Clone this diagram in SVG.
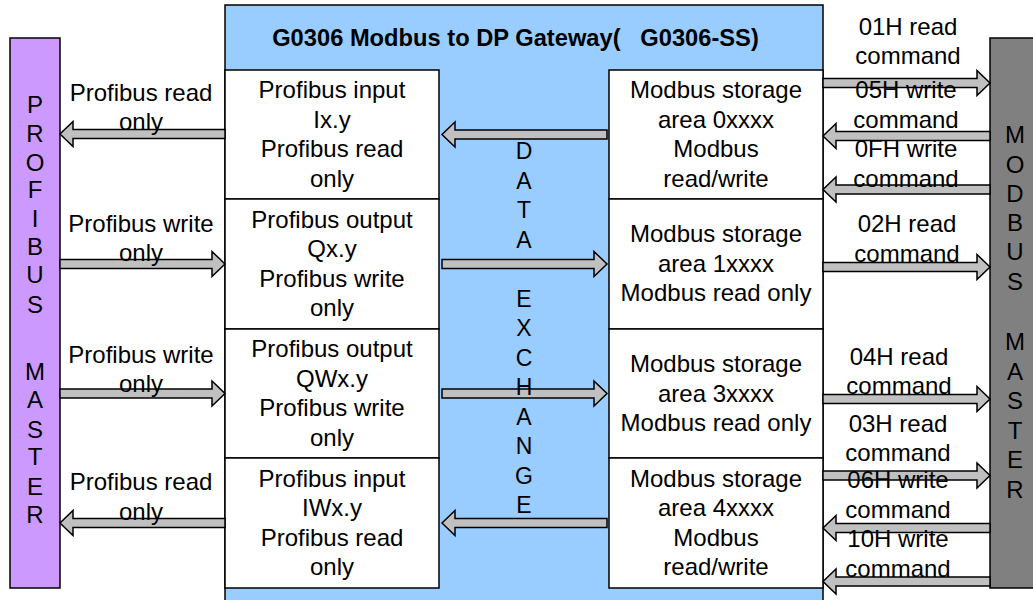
<svg xmlns="http://www.w3.org/2000/svg" width="1033" height="600" viewBox="0 0 1033 600">
<style>
text{font-family:"Liberation Sans",Arial,sans-serif;font-size:24px;fill:#000;text-anchor:middle}
.t{font-weight:bold;font-size:23.7px}
.v{font-size:23px}
.box{fill:#fff;stroke:#000;stroke-width:1.5}
.arr{fill:#C0C0C0;stroke:#000;stroke-width:1.5;stroke-linejoin:miter}
</style>
<rect width="1033" height="600" fill="#fff"/>
<g id="gateway">
<rect x="225" y="5" width="598" height="600" fill="#99CCFF" stroke="#000" stroke-width="1.5"/>
<text class="t" x="515.5" y="46" xml:space="preserve">G0306 Modbus to DP Gateway(   G0306-SS)</text>
</g>
<g id="profibus-master">
<rect x="10" y="38" width="50" height="550" fill="#CC99FF" stroke="#000" stroke-width="1.5"/>
<text x="35" y="113">P</text><text x="35" y="142">R</text><text x="35" y="171">O</text><text x="35" y="198">F</text>
<text x="35" y="227">I</text><text x="35" y="255">B</text><text x="35" y="283">U</text><text x="35" y="313">S</text>
<text x="35" y="380">M</text><text x="35" y="408">A</text><text x="35" y="438">S</text><text x="35" y="465">T</text>
<text x="35" y="495">E</text><text x="35" y="523">R</text>
</g>
<g id="modbus-master">
<rect x="990" y="38" width="50" height="550" fill="#808080" stroke="#000" stroke-width="1.5"/>
<text x="1015" y="143">M</text><text x="1015" y="173">O</text><text x="1015" y="202">D</text><text x="1015" y="231">B</text>
<text x="1015" y="260">U</text><text x="1015" y="290">S</text>
<text x="1015" y="350">M</text><text x="1015" y="380">A</text><text x="1015" y="409">S</text><text x="1015" y="439">T</text>
<text x="1015" y="468">E</text><text x="1015" y="498">R</text>
</g>
<g id="pb-input-ix">
<rect class="box" x="225" y="70" width="214" height="129"/>
<text x="332" y="98">Profibus input</text><text x="332" y="127.5">Ix.y</text><text x="332" y="157">Profibus read</text><text x="332" y="186.5">only</text>
</g>
<g id="pb-output-qx">
<rect class="box" x="225" y="199" width="214" height="130"/>
<text x="332" y="227.5">Profibus output</text><text x="332" y="257">Qx.y</text><text x="332" y="286.5">Profibus write</text><text x="332" y="316">only</text>
</g>
<g id="pb-output-qwx">
<rect class="box" x="225" y="329" width="214" height="129"/>
<text x="332" y="357">Profibus output</text><text x="332" y="386.5">QWx.y</text><text x="332" y="416">Profibus write</text><text x="332" y="445.5">only</text>
</g>
<g id="pb-input-iwx">
<rect class="box" x="225" y="458" width="214" height="130"/>
<text x="332" y="486.5">Profibus input</text><text x="332" y="516">IWx.y</text><text x="332" y="545.5">Profibus read</text><text x="332" y="575">only</text>
</g>
<g id="mb-0xxxx">
<rect class="box" x="609" y="70" width="214" height="129"/>
<text x="716" y="98">Modbus storage</text><text x="716" y="127.5">area 0xxxx</text><text x="716" y="157">Modbus</text><text x="716" y="186.5">read/write</text>
</g>
<g id="mb-1xxxx">
<rect class="box" x="609" y="199" width="214" height="130"/>
<text x="716" y="242">Modbus storage</text><text x="716" y="271.5">area 1xxxx</text><text x="716" y="301">Modbus read only</text>
</g>
<g id="mb-3xxxx">
<rect class="box" x="609" y="329" width="214" height="129"/>
<text x="716" y="372">Modbus storage</text><text x="716" y="401.5">area 3xxxx</text><text x="716" y="431">Modbus read only</text>
</g>
<g id="mb-4xxxx">
<rect class="box" x="609" y="458" width="214" height="130"/>
<text x="716" y="486.5">Modbus storage</text><text x="716" y="516">area 4xxxx</text><text x="716" y="545.5">Modbus</text><text x="716" y="575">read/write</text>
</g>
<g id="connectors">
<path class="arr" d="M225,129.5 H73 V121.5 L60,134 L73,146.5 V138.5 H225 Z"/>
<path class="arr" d="M60,259.5 H212 V251.5 L225,264 L212,276.5 V268.5 H60 Z"/>
<path class="arr" d="M60,389 H212 V381 L225,393.5 L212,406 V398 H60 Z"/>
<path class="arr" d="M225,518.5 H73 V510.5 L60,523 L73,535.5 V527.5 H225 Z"/>
<path class="arr" d="M607,130 H455 V122 L442,134.5 L455,147 V139 H607 Z"/>
<path class="arr" d="M442,259.5 H594 V251.5 L607,264 L594,276.5 V268.5 H442 Z"/>
<path class="arr" d="M442,389 H594 V381 L607,393.5 L594,406 V398 H442 Z"/>
<path class="arr" d="M607,518.5 H455 V510.5 L442,523 L455,535.5 V527.5 H607 Z"/>
<path class="arr" d="M823,78.5 H977 V70.5 L990,83 L977,95.5 V87.5 H823 Z"/>
<path class="arr" d="M990,131.5 H836 V123.5 L823,136 L836,148.5 V140.5 H990 Z"/>
<path class="arr" d="M990,185 H836 V177 L823,189.5 L836,202 V194 H990 Z"/>
<path class="arr" d="M823,262.5 H977 V254.5 L990,267 L977,279.5 V271.5 H823 Z"/>
<path class="arr" d="M823,394.5 H977 V386.5 L990,399 L977,411.5 V403.5 H823 Z"/>
<path class="arr" d="M823,471 H977 V463 L990,475.5 L977,488 V480 H823 Z"/>
<path class="arr" d="M990,523.5 H836 V515.5 L823,528 L836,540.5 V532.5 H990 Z"/>
<path class="arr" d="M990,577 H836 V569 L823,581.5 L836,594 V586 H990 Z"/>
</g>
<g id="data-exchange-label">
<text class="v" x="524" y="159">D</text>
<text class="v" x="524" y="188.5">A</text>
<text class="v" x="524" y="218">T</text>
<text class="v" x="524" y="247.5">A</text>
<text class="v" x="524" y="306.5">E</text>
<text class="v" x="524" y="336">X</text>
<text class="v" x="524" y="365.5">C</text>
<text class="v" x="524" y="395">H</text>
<text class="v" x="524" y="424.5">A</text>
<text class="v" x="524" y="454">N</text>
<text class="v" x="524" y="483.5">G</text>
<text class="v" x="524" y="513">E</text>
</g>
<g id="connector-labels">
<text x="141" y="101">Profibus read</text><text x="141" y="130">only</text>
<text x="141" y="232">Profibus write</text><text x="141" y="261">only</text>
<text x="141" y="363">Profibus write</text><text x="141" y="392">only</text>
<text x="141" y="490">Profibus read</text><text x="141" y="520">only</text>
<text x="908" y="35">01H read</text><text x="908" y="64">command</text>
<text x="906" y="98">05H write</text><text x="906" y="128">command</text>
<text x="906" y="157">0FH write</text><text x="906" y="187">command</text>
<text x="907" y="232">02H read</text><text x="907" y="262">command</text>
<text x="899" y="365">04H read</text><text x="899" y="394">command</text>
<text x="898" y="432">03H read</text><text x="898" y="461">command</text>
<text x="898" y="488">06H write</text><text x="898" y="518">command</text>
<text x="898" y="547">10H write</text><text x="898" y="577">command</text>
</g>
</svg>
